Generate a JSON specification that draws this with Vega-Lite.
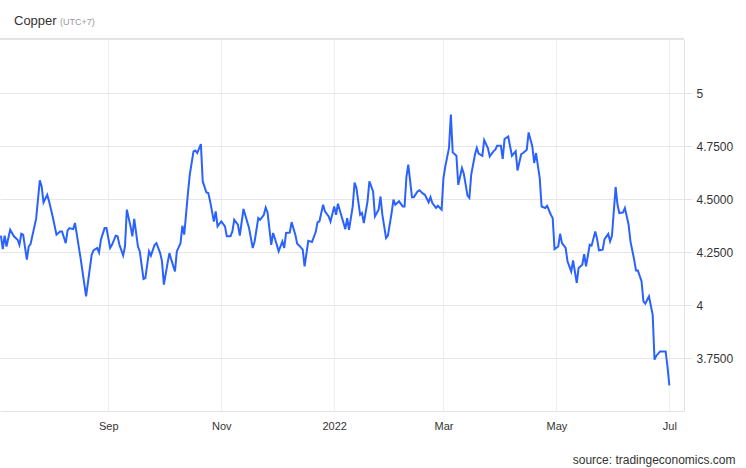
{
  "$schema": "https://vega.github.io/schema/vega-lite/v6.json",
  "width": 684,
  "height": 372,
  "autosize": "none",
  "padding": {"left": 0, "top": 39, "right": 62, "bottom": 57},
  "background": "white",
  "config": {"view": {"stroke": null}, "font": "Liberation Sans"},
  "data": {"values": [
    {"date": "2021-07-05", "price": 4.327}, {"date": "2021-07-06", "price": 4.264}, {"date": "2021-07-07", "price": 4.327},
    {"date": "2021-07-08", "price": 4.276}, {"date": "2021-07-10", "price": 4.355}, {"date": "2021-07-12", "price": 4.324},
    {"date": "2021-07-14", "price": 4.308}, {"date": "2021-07-15", "price": 4.284}, {"date": "2021-07-16", "price": 4.336},
    {"date": "2021-07-17", "price": 4.332}, {"date": "2021-07-19", "price": 4.214}, {"date": "2021-07-20", "price": 4.276},
    {"date": "2021-07-21", "price": 4.288}, {"date": "2021-07-24", "price": 4.406}, {"date": "2021-07-26", "price": 4.588},
    {"date": "2021-07-27", "price": 4.559}, {"date": "2021-07-28", "price": 4.484}, {"date": "2021-07-30", "price": 4.520},
    {"date": "2021-07-31", "price": 4.489}, {"date": "2021-08-02", "price": 4.415}, {"date": "2021-08-04", "price": 4.332},
    {"date": "2021-08-06", "price": 4.347}, {"date": "2021-08-07", "price": 4.347}, {"date": "2021-08-09", "price": 4.292},
    {"date": "2021-08-10", "price": 4.352}, {"date": "2021-08-11", "price": 4.363}, {"date": "2021-08-13", "price": 4.358},
    {"date": "2021-08-14", "price": 4.387}, {"date": "2021-08-15", "price": 4.332}, {"date": "2021-08-17", "price": 4.222},
    {"date": "2021-08-20", "price": 4.041}, {"date": "2021-08-23", "price": 4.237}, {"date": "2021-08-24", "price": 4.258},
    {"date": "2021-08-26", "price": 4.269}, {"date": "2021-08-27", "price": 4.248}, {"date": "2021-08-28", "price": 4.308},
    {"date": "2021-08-30", "price": 4.363}, {"date": "2021-08-31", "price": 4.363}, {"date": "2021-09-02", "price": 4.269},
    {"date": "2021-09-03", "price": 4.284}, {"date": "2021-09-05", "price": 4.327}, {"date": "2021-09-06", "price": 4.324},
    {"date": "2021-09-07", "price": 4.284}, {"date": "2021-09-09", "price": 4.234}, {"date": "2021-09-10", "price": 4.276},
    {"date": "2021-09-11", "price": 4.450}, {"date": "2021-09-13", "price": 4.371}, {"date": "2021-09-14", "price": 4.324},
    {"date": "2021-09-15", "price": 4.406}, {"date": "2021-09-17", "price": 4.276}, {"date": "2021-09-18", "price": 4.253},
    {"date": "2021-09-20", "price": 4.123}, {"date": "2021-09-21", "price": 4.127}, {"date": "2021-09-23", "price": 4.253},
    {"date": "2021-09-24", "price": 4.233}, {"date": "2021-09-26", "price": 4.284}, {"date": "2021-09-27", "price": 4.292},
    {"date": "2021-09-29", "price": 4.245}, {"date": "2021-09-30", "price": 4.206}, {"date": "2021-10-01", "price": 4.096},
    {"date": "2021-10-03", "price": 4.198}, {"date": "2021-10-04", "price": 4.245}, {"date": "2021-10-05", "price": 4.214},
    {"date": "2021-10-07", "price": 4.158}, {"date": "2021-10-08", "price": 4.253}, {"date": "2021-10-10", "price": 4.292},
    {"date": "2021-10-11", "price": 4.374}, {"date": "2021-10-12", "price": 4.332}, {"date": "2021-10-14", "price": 4.528},
    {"date": "2021-10-15", "price": 4.615}, {"date": "2021-10-17", "price": 4.725}, {"date": "2021-10-18", "price": 4.729},
    {"date": "2021-10-19", "price": 4.717}, {"date": "2021-10-21", "price": 4.759}, {"date": "2021-10-22", "price": 4.583},
    {"date": "2021-10-24", "price": 4.531}, {"date": "2021-10-25", "price": 4.528}, {"date": "2021-10-26", "price": 4.489},
    {"date": "2021-10-28", "price": 4.394}, {"date": "2021-10-29", "price": 4.442}, {"date": "2021-10-30", "price": 4.371},
    {"date": "2021-11-01", "price": 4.394}, {"date": "2021-11-03", "price": 4.371}, {"date": "2021-11-04", "price": 4.324},
    {"date": "2021-11-06", "price": 4.324}, {"date": "2021-11-07", "price": 4.347}, {"date": "2021-11-08", "price": 4.402},
    {"date": "2021-11-10", "price": 4.379}, {"date": "2021-11-11", "price": 4.327}, {"date": "2021-11-13", "price": 4.453},
    {"date": "2021-11-16", "price": 4.363}, {"date": "2021-11-18", "price": 4.269}, {"date": "2021-11-19", "price": 4.300},
    {"date": "2021-11-21", "price": 4.410}, {"date": "2021-11-22", "price": 4.402}, {"date": "2021-11-24", "price": 4.426},
    {"date": "2021-11-25", "price": 4.460}, {"date": "2021-11-26", "price": 4.437}, {"date": "2021-11-28", "price": 4.284},
    {"date": "2021-11-29", "price": 4.340}, {"date": "2021-12-01", "price": 4.284}, {"date": "2021-12-02", "price": 4.253},
    {"date": "2021-12-04", "price": 4.300}, {"date": "2021-12-05", "price": 4.269}, {"date": "2021-12-06", "price": 4.340},
    {"date": "2021-12-08", "price": 4.342}, {"date": "2021-12-09", "price": 4.391}, {"date": "2021-12-11", "price": 4.332},
    {"date": "2021-12-12", "price": 4.289}, {"date": "2021-12-13", "price": 4.281}, {"date": "2021-12-15", "price": 4.261},
    {"date": "2021-12-16", "price": 4.182}, {"date": "2021-12-18", "price": 4.303}, {"date": "2021-12-19", "price": 4.300},
    {"date": "2021-12-20", "price": 4.297}, {"date": "2021-12-22", "price": 4.344}, {"date": "2021-12-23", "price": 4.391},
    {"date": "2021-12-24", "price": 4.394}, {"date": "2021-12-26", "price": 4.473}, {"date": "2021-12-27", "price": 4.442},
    {"date": "2021-12-29", "price": 4.418}, {"date": "2021-12-30", "price": 4.394}, {"date": "2022-01-01", "price": 4.465},
    {"date": "2022-01-02", "price": 4.426}, {"date": "2022-01-03", "price": 4.478}, {"date": "2022-01-05", "price": 4.418},
    {"date": "2022-01-07", "price": 4.358}, {"date": "2022-01-08", "price": 4.410}, {"date": "2022-01-09", "price": 4.355},
    {"date": "2022-01-11", "price": 4.465}, {"date": "2022-01-12", "price": 4.578}, {"date": "2022-01-13", "price": 4.552},
    {"date": "2022-01-15", "price": 4.426}, {"date": "2022-01-16", "price": 4.434}, {"date": "2022-01-17", "price": 4.387},
    {"date": "2022-01-19", "price": 4.489}, {"date": "2022-01-20", "price": 4.583}, {"date": "2022-01-22", "price": 4.536},
    {"date": "2022-01-23", "price": 4.418}, {"date": "2022-01-25", "price": 4.450}, {"date": "2022-01-26", "price": 4.512},
    {"date": "2022-01-27", "price": 4.426}, {"date": "2022-01-29", "price": 4.316}, {"date": "2022-01-30", "price": 4.327},
    {"date": "2022-02-01", "price": 4.434}, {"date": "2022-02-02", "price": 4.497}, {"date": "2022-02-03", "price": 4.473},
    {"date": "2022-02-05", "price": 4.489}, {"date": "2022-02-07", "price": 4.465}, {"date": "2022-02-08", "price": 4.465},
    {"date": "2022-02-09", "price": 4.604}, {"date": "2022-02-10", "price": 4.662}, {"date": "2022-02-12", "price": 4.509},
    {"date": "2022-02-13", "price": 4.509}, {"date": "2022-02-15", "price": 4.536}, {"date": "2022-02-16", "price": 4.541},
    {"date": "2022-02-18", "price": 4.525}, {"date": "2022-02-19", "price": 4.520}, {"date": "2022-02-21", "price": 4.484},
    {"date": "2022-02-22", "price": 4.509}, {"date": "2022-02-23", "price": 4.481}, {"date": "2022-02-25", "price": 4.458},
    {"date": "2022-02-26", "price": 4.468}, {"date": "2022-02-28", "price": 4.450}, {"date": "2022-03-01", "price": 4.599},
    {"date": "2022-03-02", "price": 4.654}, {"date": "2022-03-04", "price": 4.741}, {"date": "2022-03-05", "price": 4.898},
    {"date": "2022-03-06", "price": 4.720}, {"date": "2022-03-08", "price": 4.704}, {"date": "2022-03-09", "price": 4.567},
    {"date": "2022-03-11", "price": 4.646}, {"date": "2022-03-12", "price": 4.619}, {"date": "2022-03-14", "price": 4.516},
    {"date": "2022-03-15", "price": 4.505}, {"date": "2022-03-16", "price": 4.615}, {"date": "2022-03-18", "price": 4.709},
    {"date": "2022-03-19", "price": 4.741}, {"date": "2022-03-20", "price": 4.714}, {"date": "2022-03-22", "price": 4.704},
    {"date": "2022-03-23", "price": 4.778}, {"date": "2022-03-25", "price": 4.741}, {"date": "2022-03-26", "price": 4.701},
    {"date": "2022-03-28", "price": 4.725}, {"date": "2022-03-29", "price": 4.733}, {"date": "2022-03-30", "price": 4.751},
    {"date": "2022-04-01", "price": 4.751}, {"date": "2022-04-02", "price": 4.689}, {"date": "2022-04-03", "price": 4.783},
    {"date": "2022-04-05", "price": 4.795}, {"date": "2022-04-06", "price": 4.748}, {"date": "2022-04-07", "price": 4.704},
    {"date": "2022-04-09", "price": 4.725}, {"date": "2022-04-10", "price": 4.635}, {"date": "2022-04-12", "price": 4.712},
    {"date": "2022-04-13", "price": 4.717}, {"date": "2022-04-15", "price": 4.733}, {"date": "2022-04-16", "price": 4.814},
    {"date": "2022-04-18", "price": 4.748}, {"date": "2022-04-19", "price": 4.670}, {"date": "2022-04-20", "price": 4.717},
    {"date": "2022-04-22", "price": 4.599}, {"date": "2022-04-23", "price": 4.465}, {"date": "2022-04-25", "price": 4.458},
    {"date": "2022-04-26", "price": 4.468}, {"date": "2022-04-28", "price": 4.426}, {"date": "2022-04-29", "price": 4.410},
    {"date": "2022-04-30", "price": 4.264}, {"date": "2022-05-02", "price": 4.276}, {"date": "2022-05-03", "price": 4.336},
    {"date": "2022-05-04", "price": 4.292}, {"date": "2022-05-06", "price": 4.269}, {"date": "2022-05-07", "price": 4.206},
    {"date": "2022-05-09", "price": 4.158}, {"date": "2022-05-10", "price": 4.210}, {"date": "2022-05-12", "price": 4.104},
    {"date": "2022-05-13", "price": 4.175}, {"date": "2022-05-15", "price": 4.190}, {"date": "2022-05-16", "price": 4.240},
    {"date": "2022-05-17", "price": 4.182}, {"date": "2022-05-19", "price": 4.284}, {"date": "2022-05-20", "price": 4.280},
    {"date": "2022-05-22", "price": 4.347}, {"date": "2022-05-23", "price": 4.311}, {"date": "2022-05-24", "price": 4.258},
    {"date": "2022-05-26", "price": 4.261}, {"date": "2022-05-27", "price": 4.311}, {"date": "2022-05-29", "price": 4.336},
    {"date": "2022-05-30", "price": 4.300}, {"date": "2022-05-31", "price": 4.327}, {"date": "2022-06-02", "price": 4.557},
    {"date": "2022-06-03", "price": 4.473}, {"date": "2022-06-04", "price": 4.434}, {"date": "2022-06-06", "price": 4.437},
    {"date": "2022-06-07", "price": 4.458}, {"date": "2022-06-09", "price": 4.379}, {"date": "2022-06-10", "price": 4.300},
    {"date": "2022-06-12", "price": 4.214}, {"date": "2022-06-13", "price": 4.163}, {"date": "2022-06-14", "price": 4.163},
    {"date": "2022-06-16", "price": 4.111}, {"date": "2022-06-17", "price": 4.017}, {"date": "2022-06-18", "price": 4.006},
    {"date": "2022-06-20", "price": 4.041}, {"date": "2022-06-22", "price": 3.954}, {"date": "2022-06-23", "price": 3.742},
    {"date": "2022-06-24", "price": 3.761}, {"date": "2022-06-26", "price": 3.781}, {"date": "2022-06-27", "price": 3.781},
    {"date": "2022-06-29", "price": 3.781}, {"date": "2022-06-30", "price": 3.710}, {"date": "2022-07-01", "price": 3.621}
  ]},
  "encoding": {
    "x": {
      "field": "date", "type": "temporal",
      "scale": {"type": "utc", "domain": [
        {"year": 2021, "month": 7, "date": 4, "hours": 12, "utc": true},
        {"year": 2022, "month": 7, "date": 8, "hours": 22, "utc": true}
      ]},
      "axis": {
        "title": "source: tradingeconomics.com",
        "titleX": 735, "titleY": 52, "titleAlign": "right", "titleAnchor": "end",
        "titleBaseline": "alphabetic", "titleFontSize": 12, "titleFontWeight": "normal",
        "titleColor": "#333333", "titleFont": "Liberation Sans",
        "values": [
          {"year": 2021, "month": 9, "date": 1, "utc": true},
          {"year": 2021, "month": 11, "date": 1, "utc": true},
          {"year": 2022, "month": 1, "date": 1, "utc": true},
          {"year": 2022, "month": 3, "date": 1, "utc": true},
          {"year": 2022, "month": 5, "date": 1, "utc": true},
          {"year": 2022, "month": 7, "date": 1, "utc": true}
        ],
        "labelExpr": "utcFormat(datum.value, utcmonth(datum.value) == 0 ? '%Y' : '%b')",
        "labelFontSize": 11, "labelColor": "#333333", "labelFont": "Liberation Sans",
        "labelPadding": 9, "ticks": false, "tickSize": 0,
        "domainColor": "#e3e3e3", "grid": true, "gridColor": "#eeeeee", "labelFlush": false
      }
    },
    "y": {
      "field": "price", "type": "quantitative",
      "scale": {"domain": [3.5, 5.255], "zero": false, "nice": false},
      "axis": {
        "orient": "right", "title": null,
        "values": [3.75, 4, 4.25, 4.5, 4.75, 5],
        "labelExpr": "datum.value % 1 == 0 ? format(datum.value, 'd') : format(datum.value, '.4f')",
        "labelFontSize": 12, "labelColor": "#333333", "labelFont": "Liberation Sans",
        "tickSize": 8, "tickColor": "#e3e3e3", "labelPadding": 4,
        "domainColor": "#e3e3e3", "grid": true, "gridColor": "#e6e6e6"
      }
    }
  },
  "layer": [
    {"mark": {"type": "rule", "color": "#e3e3e3", "strokeWidth": 1}, "encoding": {"y": {"datum": 5.255}, "x": null}},
    {"mark": {"type": "line", "color": "#2962ff", "strokeWidth": 2, "interpolate": "linear"}},
    {"data": {"values": [{}]}, "mark": {"type": "text", "text": "Copper", "x": 14, "y": -14, "align": "left", "baseline": "alphabetic", "fontSize": 13, "color": "#333333", "font": "Liberation Sans"}, "encoding": {"x": null, "y": null}},
    {"data": {"values": [{}]}, "mark": {"type": "text", "text": "(UTC+7)", "x": 60, "y": -14, "align": "left", "baseline": "alphabetic", "fontSize": 9, "color": "#999999", "font": "Liberation Sans"}, "encoding": {"x": null, "y": null}}
  ]
}
